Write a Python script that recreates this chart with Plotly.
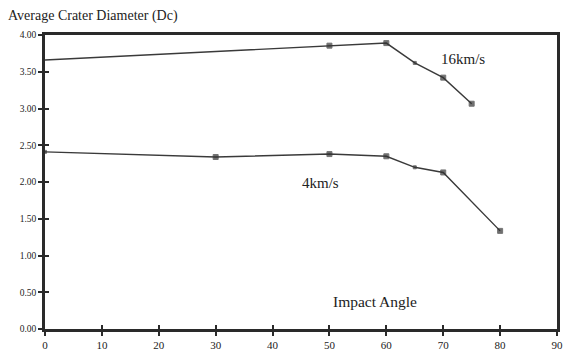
import plotly.graph_objects as go

# Impact angle (degrees) vs. average crater diameter (Dc)
angle_16 = [0, 50, 60, 65, 70, 75]
diam_16 = [3.66, 3.855, 3.89, 3.62, 3.42, 3.065]
marker_16 = [0, 5, 5, 3, 5, 5]

angle_4 = [0, 30, 50, 60, 65, 70, 80]
diam_4 = [2.41, 2.34, 2.38, 2.35, 2.20, 2.13, 1.335]
marker_4 = [3, 5, 5, 5, 3, 5, 5]

x_ticks = list(range(0, 91, 10))
y_ticks = [0.0, 0.5, 1.0, 1.5, 2.0, 2.5, 3.0, 3.5, 4.0]

line_col = "#3a3a3a"
axis_col = "#2a2a2a"
serif = "Liberation Serif, DejaVu Serif, serif"

fig = go.Figure()
for xs, ys, ms in [(angle_16, diam_16, marker_16), (angle_4, diam_4, marker_4)]:
    fig.add_trace(go.Scatter(
        x=xs, y=ys, mode="lines+markers",
        line=dict(color=line_col, width=1.4),
        marker=dict(symbol="square", size=ms, color="#333333"),
        showlegend=False, cliponaxis=False,
    ))

# empty trace so the overlay axes (inner tick halves) get drawn
fig.add_trace(go.Scatter(x=[None], y=[None], xaxis="x2", yaxis="y2",
                         showlegend=False, hoverinfo="skip"))

fig.add_annotation(x=73.5, y=3.68, text="16km/s", showarrow=False,
                   font=dict(family=serif, size=15, color="#222"))
fig.add_annotation(x=48.4, y=1.99, text="4km/s", showarrow=False,
                   font=dict(family=serif, size=15, color="#222"))
fig.add_annotation(x=58, y=0.37, text="Impact Angle", showarrow=False,
                   font=dict(family=serif, size=15.5, color="#222"))
fig.add_annotation(xref="paper", yref="paper", x=-0.077, y=1.0, yshift=19,
                   xanchor="left", yanchor="middle",
                   text="Average Crater Diameter (Dc)", showarrow=False,
                   font=dict(family=serif, size=14, color="#222"))

common = dict(showgrid=False, zeroline=False, ticklen=4, tickwidth=2,
              tickcolor=axis_col, automargin=False)
main_line = dict(showline=True, mirror=True, linecolor=axis_col, linewidth=2.5)

fig.update_layout(
    width=565, height=351,
    margin=dict(l=45, r=8, t=35, b=22),
    paper_bgcolor="white", plot_bgcolor="white",
    xaxis=dict(range=[0, 90], tickvals=x_ticks, ticktext=[str(v) for v in x_ticks],
               ticks="outside", ticklabeloverflow="allow",
               tickfont=dict(family=serif, size=11, color="#222"),
               **common, **main_line),
    yaxis=dict(range=[0, 4.0], tickvals=y_ticks, ticktext=[f"{v:.2f}" for v in y_ticks],
               ticks="outside", ticklabeloverflow="allow",
               tickfont=dict(family=serif, size=9.5, color="#222"),
               **common, **main_line),
    xaxis2=dict(range=[0, 90], tickvals=x_ticks, overlaying="x", anchor="y2",
                ticks="inside", showticklabels=False, showline=False, **common),
    yaxis2=dict(range=[0, 4.0], tickvals=y_ticks, overlaying="y", anchor="x2",
                ticks="inside", showticklabels=False, showline=False, **common),
)

fig.write_html("out.html")
